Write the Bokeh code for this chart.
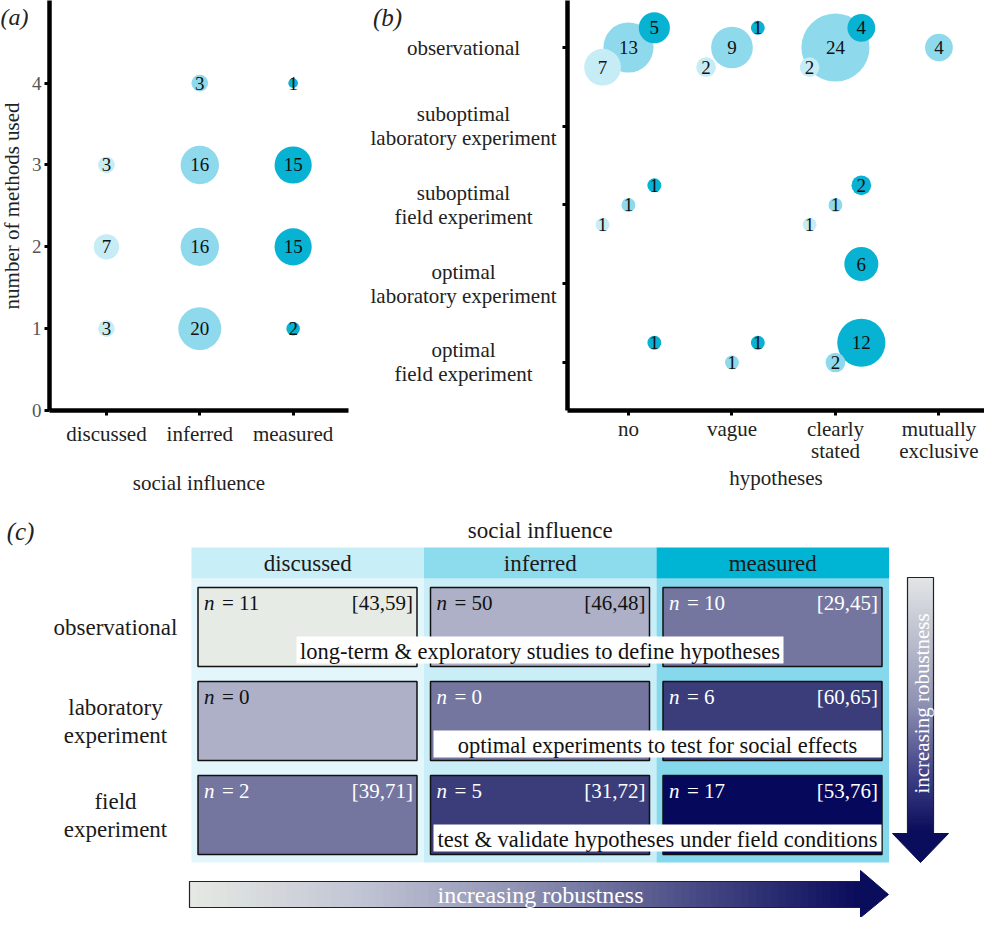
import numpy as np
from bokeh.plotting import figure
from bokeh.models import ColumnDataSource, Range1d, FixedTicker
from bokeh.layouts import column, row
from bokeh.embed import file_html
from bokeh.resources import INLINE
from bokeh.core.properties import value

SERIF = "'Liberation Serif', 'DejaVu Serif', serif"

# ---------------- data ----------------
social = ["discussed", "inferred", "measured"]
social_colors = ["#c6ecf6", "#8ed9ec", "#07b2d2"]

# panel (a): social influence x number of methods used
a_social = ["discussed", "discussed", "discussed",
            "inferred", "inferred", "inferred", "inferred",
            "measured", "measured", "measured", "measured"]
a_methods = [1, 2, 3, 1, 2, 3, 4, 1, 2, 3, 4]
a_count = [3, 7, 3, 20, 16, 16, 3, 2, 15, 15, 1]
a_yticks = [0, 1, 2, 3, 4]

# panel (b): hypotheses x method type, split by social influence
hypotheses = ["no", "vague", "clearly\nstated", "mutually\nexclusive"]
method_types = ["optimal\nfield experiment", "optimal\nlaboratory experiment",
                "suboptimal\nfield experiment", "suboptimal\nlaboratory experiment",
                "observational"]
b_hyp = ["no", "no", "no", "vague", "vague", "vague",
         "clearly\nstated", "clearly\nstated", "clearly\nstated", "mutually\nexclusive",
         "no", "no", "no", "clearly\nstated", "clearly\nstated", "clearly\nstated",
         "clearly\nstated",
         "no", "vague", "vague", "clearly\nstated", "clearly\nstated"]
b_method = ["observational"] * 10 + ["suboptimal\nfield experiment"] * 6 + \
           ["optimal\nlaboratory experiment"] + ["optimal\nfield experiment"] * 5
b_social = ["discussed", "inferred", "measured", "discussed", "inferred", "measured",
            "discussed", "inferred", "measured", "inferred",
            "discussed", "inferred", "measured", "discussed", "inferred", "measured",
            "measured",
            "measured", "inferred", "measured", "inferred", "measured"]
b_count = [7, 13, 5, 2, 9, 1, 2, 24, 4, 4,
           1, 1, 1, 1, 1, 2,
           6,
           1, 1, 1, 2, 12]

# panel (c)
c_methods = ["observational", "laboratory\nexperiment", "field\nexperiment"]
c_n = [[11, 50, 10], [0, 0, 6], [2, 5, 17]]
c_ci = [["[43,59]", "[46,48]", "[29,45]"], ["", "", "[60,65]"], ["[39,71]", "[31,72]", "[53,76]"]]
c_notes = ["long-term & exploratory studies to define hypotheses",
           "optimal experiments to test for social effects",
           "test & validate hypotheses under field conditions"]
robust_colors = ["#e6ebe5", "#adb0c6", "#74769f", "#3b3d7b", "#06095b"]
header_colors = ["#c8eef7", "#8ddcee", "#00b4d4"]
column_bg = ["#e2f6fb", "#c9eef7", "#86d9ec"]

BOTTOM = 90  # space under the plot frames of panels (a) and (b)


def style_axis(ax, size="21px", color="#222222"):
    ax.axis_line_width = 4.5
    ax.axis_line_color = "black"
    ax.major_tick_line_width = 3
    ax.major_tick_out = 5
    ax.major_tick_in = 0
    ax.minor_tick_line_color = None
    ax.major_label_text_font = SERIF
    ax.major_label_text_font_size = size
    ax.major_label_text_color = color
    ax.axis_label_text_font = SERIF
    ax.axis_label_text_font_style = "normal"
    ax.axis_label_text_font_size = "21px"
    ax.axis_label_text_color = "#222222"


def hide_labels(ax, ticks):
    ax.major_label_overrides = {t: "" for t in ticks}
    ax.major_label_text_color = None
    ax.major_label_text_font_size = "1px"
    ax.major_label_standoff = 0


def side_fig(width, yr):
    f = figure(width=width, height=500, output_backend="svg", toolbar_location=None,
               x_range=Range1d(0, width), y_range=yr, x_axis_location=None, y_axis_location=None,
               min_border_left=0, min_border_right=0, min_border_top=0, min_border_bottom=BOTTOM)
    f.outline_line_color = None
    f.grid.visible = False
    return f


# ---------------- panel (a) ----------------
ya = Range1d(0, 5.01)
pa = figure(width=327, height=500, output_backend="svg", toolbar_location=None,
            x_range=Range1d(-0.61, 2.593), y_range=ya,
            min_border_left=19, min_border_right=7, min_border_top=0, min_border_bottom=BOTTOM)
pa.outline_line_color = None
pa.grid.visible = False

src_a = ColumnDataSource(dict(
    x=[social.index(s) for s in a_social],
    y=a_methods,
    size=[9.6 * np.sqrt(c) for c in a_count],
    color=[social_colors[social.index(s)] for s in a_social],
    label=[str(c) for c in a_count],
))
pa.scatter("x", "y", size="size", fill_color="color", line_color=None, source=src_a)
pa.text("x", "y", text="label", text_align="center", text_baseline="middle",
        text_font=value(SERIF), text_font_size="19px", text_color="#111111", source=src_a)

style_axis(pa.xaxis[0], "21px", "#222222")
style_axis(pa.yaxis[0], "19px", "#555555")
pa.xaxis.ticker = FixedTicker(ticks=list(range(len(social))))
pa.xaxis.major_label_overrides = {i: s for i, s in enumerate(social)}
pa.xaxis.major_label_standoff = 6
pa.xaxis.axis_label = "social influence"
pa.xaxis.axis_label_standoff = 22
pa.yaxis.ticker = FixedTicker(ticks=a_yticks)
pa.yaxis.major_label_standoff = 3

# text strip left of panel (a): axis title and panel tag
pa_left = side_fig(28, ya)
pa_left.text(x=[11], y=[2.5], text=["number of methods used"], angle=np.pi / 2,
             text_align="center", text_baseline="middle", text_font=value(SERIF),
             text_font_size="21px", text_color="#222222")
pa_left.text(x=[14], y=[4.81], text=["(a)"], text_align="center", text_baseline="middle",
             text_font=value(SERIF), text_font_style="italic", text_font_size="24px",
             text_color="#222222")

# ---------------- panel (b) ----------------
yb = Range1d(-0.61, 4.597)
pb = figure(width=423, height=500, output_backend="svg", toolbar_location=None,
            x_range=Range1d(-0.589, 3.44), y_range=yb,
            min_border_left=6, min_border_right=0, min_border_top=0, min_border_bottom=BOTTOM)
pb.outline_line_color = None
pb.grid.visible = False

offs = {"discussed": -0.25, "inferred": 0.0, "measured": 0.25}
order = sorted(range(len(b_count)), key=lambda i: -b_count[i])
src_b = ColumnDataSource(dict(
    x=[hypotheses.index(b_hyp[i]) + offs[b_social[i]] for i in order],
    y=[method_types.index(b_method[i]) + offs[b_social[i]] for i in order],
    size=[13.9 * np.sqrt(b_count[i]) for i in order],
    color=[social_colors[social.index(b_social[i])] for i in order],
    label=[str(b_count[i]) for i in order],
))
pb.scatter("x", "y", size="size", fill_color="color", line_color=None, source=src_b)
pb.text("x", "y", text="label", text_align="center", text_baseline="middle",
        text_font=value(SERIF), text_font_size="19px", text_color="#111111", source=src_b)

style_axis(pb.xaxis[0], "21px", "#222222")
style_axis(pb.yaxis[0])
pb.xaxis.ticker = FixedTicker(ticks=list(range(len(hypotheses))))
pb.xaxis.major_label_overrides = {i: s for i, s in enumerate(hypotheses)}
pb.xaxis.major_label_text_line_height = 0.95
pb.xaxis.major_label_standoff = 1
pb.xaxis.axis_label = "hypotheses"
pb.xaxis.axis_label_standoff = 0
pb.yaxis.ticker = FixedTicker(ticks=list(range(len(method_types))))
hide_labels(pb.yaxis[0], list(range(len(method_types))))

# text strip left of panel (b): category labels (centred lines) and panel tag
pb_left = side_fig(206, yb)
ly, lt, lo = [], [], []
for i, m in enumerate(method_types):
    lines = m.split("\n")
    offsets = [0] if len(lines) == 1 else [-12, 12]
    for ln, off in zip(lines, offsets):
        ly.append(i); lt.append(ln); lo.append(off)
src_bl = ColumnDataSource(dict(x=[108] * len(ly), y=ly, text=lt, yo=lo))
pb_left.text("x", "y", text="text", y_offset="yo", text_align="center", text_baseline="middle",
             text_font=value(SERIF), text_font_size="21px", text_color="#222222", source=src_bl)
pb_left.text(x=[32], y=[4.38], text=["(b)"], text_align="center", text_baseline="middle",
             text_font=value(SERIF), text_font_style="italic", text_font_size="25px",
             text_color="#222222")

# ---------------- panel (c) ----------------
pc = figure(width=984, height=417, output_backend="svg", toolbar_location=None,
            x_range=Range1d(0, 984), y_range=Range1d(417, 0),
            x_axis_location=None, y_axis_location=None, min_border=0)
pc.outline_line_color = None
pc.grid.visible = False

col_x0, col_w = 191.0, 232.5
head_top, head_bot, bg_bot = 47, 78, 362
row_top0, row_step, cell_h = 87, 94, 79
cell_in, cell_w = 6.5, 219

col_left = [col_x0 + j * col_w for j in range(3)]
pc.quad(left=col_left, right=[c + col_w for c in col_left], top=[head_bot] * 3,
        bottom=[bg_bot] * 3, fill_color=column_bg, line_color=None)
pc.quad(left=col_left, right=[c + col_w for c in col_left], top=[head_top] * 3,
        bottom=[head_bot] * 3, fill_color=header_colors, line_color=None)
pc.text(x=[c + col_w / 2 for c in col_left], y=[(head_top + head_bot) / 2] * 3, text=social,
        text_align="center", text_baseline="middle", text_font=value(SERIF),
        text_font_size="23px", text_color="#1a1a1a")
pc.text(x=[col_x0 + 1.5 * col_w], y=[30], text=["social influence"], text_align="center",
        text_baseline="middle", text_font=value(SERIF), text_font_size="23px", text_color="#1a1a1a")
pc.text(x=[20], y=[31], text=["(c)"], text_align="center", text_baseline="middle",
        text_font=value(SERIF), text_font_style="italic", text_font_size="25px", text_color="#222222")

cl, cr, ct, cb, cc, nx, ny, nlab, cix, cilab, tcol = [], [], [], [], [], [], [], [], [], [], []
for r in range(3):
    for j in range(3):
        left = col_left[j] + cell_in
        top = row_top0 + r * row_step
        cl.append(left); cr.append(left + cell_w); ct.append(top); cb.append(top + cell_h)
        cc.append(robust_colors[r + j])
        nx.append(left + 6); ny.append(top + 3)
        nlab.append("= %d" % c_n[r][j])
        cix.append(left + cell_w - 4); cilab.append(c_ci[r][j])
        tcol.append("#111111" if r + j < 2 else "#ffffff")
pc.quad(left=cl, right=cr, top=ct, bottom=cb, fill_color=cc, line_color="#111111", line_width=1.5)
src_c = ColumnDataSource(dict(nx=nx, nx2=[x + 18 for x in nx], ny=ny, nlab=nlab,
                              ntxt=["n"] * 9, cix=cix, cilab=cilab, tcol=tcol))
pc.text("nx", "ny", text="ntxt", text_color="tcol", text_font=value(SERIF), text_font_style="italic",
        text_font_size="21px", text_baseline="top", text_align="left", source=src_c)
pc.text("nx2", "ny", text="nlab", text_color="tcol", text_font=value(SERIF),
        text_font_size="21px", text_baseline="top", text_align="left", source=src_c)
pc.text("cix", "ny", text="cilab", text_color="tcol", text_font=value(SERIF),
        text_font_size="21px", text_baseline="top", text_align="right", source=src_c)

# row labels
for r, m in enumerate(c_methods):
    lines = m.split("\n")
    cy = row_top0 + r * row_step + 40
    offsets = [0] if len(lines) == 1 else [-14, 14]
    pc.text(x=[115] * len(lines), y=[cy + o for o in offsets], text=lines, text_align="center",
            text_baseline="middle", text_font=value(SERIF), text_font_size="23px", text_color="#1a1a1a")

# white note boxes
box_l = [296, 433, 433]
box_r = [783, 881, 881]
box_t = [row_top0 + r * row_step + 49 for r in range(3)]
box_b = [t + 27 for t in box_t]
pc.quad(left=box_l, right=box_r, top=box_t, bottom=box_b, fill_color="white", line_color=None)
pc.text(x=[(a + b) / 2 for a, b in zip(box_l, box_r)], y=[(a + b) / 2 + 1 for a, b in zip(box_t, box_b)],
        text=c_notes, text_align="center", text_baseline="middle", text_font=value(SERIF),
        text_font_size="22.5px", text_color="#111111")


def hex2rgb(h):
    h = h.lstrip("#")
    return np.array([int(h[i:i + 2], 16) for i in (0, 2, 4)], dtype=float)


def grad(stops, t):
    n = len(stops) - 1
    k = min(int(t * n), n - 1)
    f = t * n - k
    c = hex2rgb(stops[k]) * (1 - f) + hex2rgb(stops[k + 1]) * f
    return "#%02x%02x%02x" % tuple(int(round(v)) for v in c)


h_stops = ["#e4e9e3", "#c2c5d4", "#8e91b2", "#4a4c86", "#0a0c5c"]
v_stops = ["#e2e5e5", "#b9bccb", "#8d90b1", "#45478a", "#0a0c5c"]
N = 90
# horizontal arrow
hx = np.linspace(189, 860, N + 1)
pc.quad(left=hx[:-1], right=hx[1:] + 0.8, top=[381] * N, bottom=[407] * N,
        fill_color=[grad(h_stops, t) for t in np.linspace(0, 1, N)], line_color=None)
pc.quad(left=[189], right=[861], top=[381], bottom=[407], fill_color=None,
        line_color="#222222", line_width=1.2)
pc.patch(x=[860, 888, 860], y=[370, 394, 417], fill_color="#0a0c5c", line_color="#0a0c5c")
pc.text(x=[540], y=[394], text=["increasing robustness"], text_align="center", text_baseline="middle",
        text_font=value(SERIF), text_font_size="24px", text_color="white")
# vertical arrow
vy = np.linspace(77, 333, N + 1)
pc.quad(left=[907] * N, right=[933] * N, top=vy[:-1], bottom=vy[1:] + 0.8,
        fill_color=[grad(v_stops, t) for t in np.linspace(0, 1, N)], line_color=None)
pc.quad(left=[907], right=[933], top=[77], bottom=[334], fill_color=None,
        line_color="#222222", line_width=1.2)
pc.patch(x=[892, 948, 920], y=[333, 333, 362], fill_color="#0a0c5c", line_color="#0a0c5c")
pc.text(x=[921], y=[203], text=["increasing robustness"], angle=np.pi / 2, text_align="center",
        text_baseline="middle", text_font=value(SERIF), text_font_size="21px", text_color="white")

layout = column(row(pa_left, pa, pb_left, pb), pc)
open("out.html", "w").write(file_html(layout, INLINE))
